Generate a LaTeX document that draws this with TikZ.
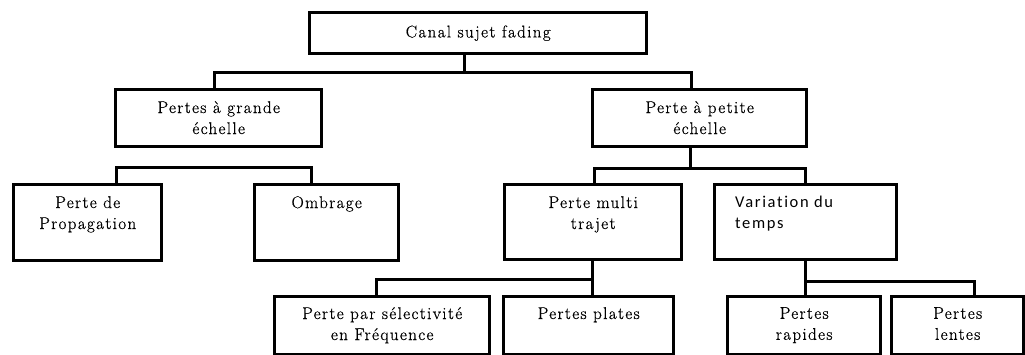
\documentclass[tikz,border=0pt]{standalone}
\usepackage{fontspec}
\setmainfont[LetterSpace=8,FakeBold=0.6]{Latin Modern Roman}
\newfontfamily\seriff[LetterSpace=8,FakeBold=0.6]{Latin Modern Roman}
\newfontfamily\sansf[LetterSpace=10,Ligatures=NoCommon]{Carlito}
\begin{document}
\begin{tikzpicture}[x=1pt,y=-1pt,
  box/.style={draw, line width=3.4pt, inner sep=0, anchor=north west},
  lbl/.style={inner sep=0, align=center, font=\seriff\fontsize{17}{21}\selectfont, anchor=north},
  wire/.style={line width=3pt}]
\useasboundingbox (0,0) rectangle (1025,354);
% boxes
\node[box, minimum width=337pt, minimum height=41pt] (root) at (308,11) {};
\node[box, minimum width=206pt, minimum height=57pt] (big) at (114,88) {};
\node[box, minimum width=214pt, minimum height=57pt] (small) at (591,88) {};
\node[box, minimum width=148pt, minimum height=76pt] (prop) at (12,183) {};
\node[box, minimum width=144pt, minimum height=76pt] (omb) at (253,183) {};
\node[box, minimum width=177pt, minimum height=75pt] (multi) at (503,183) {};
\node[box, minimum width=182pt, minimum height=75pt] (var) at (713,183) {};
\node[box, minimum width=215pt, minimum height=58pt] (selec) at (273,295) {};
\node[box, minimum width=170pt, minimum height=58pt] (plates) at (502,295) {};
\node[box, minimum width=153pt, minimum height=58pt] (rap) at (726,295) {};
\node[box, minimum width=132pt, minimum height=58pt] (lent) at (890,295) {};
% texts
\node[lbl, anchor=center] (troot) at (root.center) {Canal sujet fading};
\node[lbl] (tbig) at ([yshift=-13pt]big.north) {Pertes à grande\\échelle};
\node[lbl] (tsmall) at ([yshift=-13pt]small.north) {Perte à petite\\échelle};
\node[lbl] (tprop) at ([yshift=-13pt]prop.north) {Perte de\\Propagation};
\node[lbl] (tomb) at ([yshift=-13pt]omb.north) {Ombrage};
\node[lbl] (tmulti) at ([yshift=-13pt]multi.north) {Perte multi\\trajet};
\node[lbl, anchor=north west, align=left, font=\sansf\fontsize{16.5}{21}\selectfont] (tvar) at ([xshift=22pt,yshift=-13pt]var.north west) {Variation du\\temps};
\node[lbl] (tselec) at ([yshift=-12pt]selec.north) {Perte par sélectivité\\en Fréquence};
\node[lbl] (tplates) at ([yshift=-12pt]plates.north) {Pertes plates};
\node[lbl] (trap) at ([yshift=-12pt]rap.north) {Pertes\\rapides};
\node[lbl] (tlent) at ([yshift=-12pt]lent.north) {Pertes\\lentes};
% connectors
\coordinate (j1) at (464,72);
\draw[wire] (j1 |- root.south) -- (j1);
\draw[wire] ([xshift=-4pt]big.north) |- (j1) -| ([xshift=-8pt]small.north);
\draw[wire] ([xshift=29pt]prop.north) -- ++(0,-16) -| ([xshift=-15pt]omb.north);
\coordinate (j2) at (690,168);
\draw[wire] (j2 |- small.south) -- (j2);
\draw[wire] ([xshift=1.5pt]multi.north) |- (j2) -| (var.north);
\coordinate (j3) at (592,279);
\draw[wire] (j3 |- multi.south) -- (j3 |- plates.north);
\draw[wire] ([xshift=-5.5pt]selec.north) |- (j3);
\coordinate (j4) at (805,281);
\draw[wire] (j4 |- var.south) -- (j4 |- rap.north);
\draw[wire] (j4) -| ([xshift=17pt]lent.north);
\end{tikzpicture}
\end{document}
